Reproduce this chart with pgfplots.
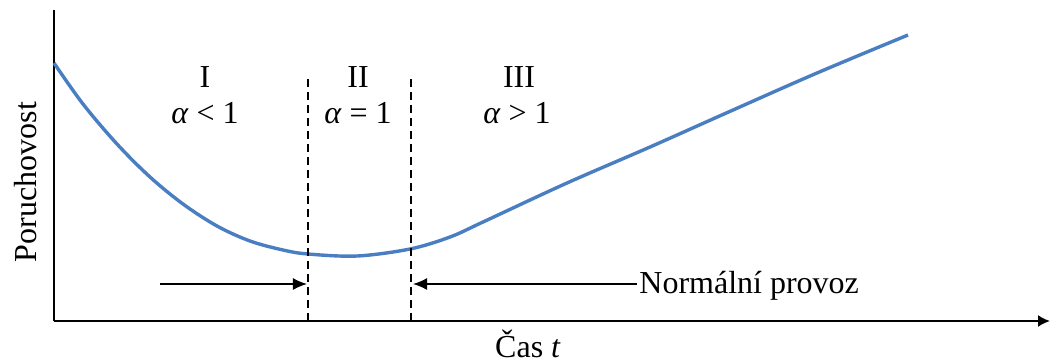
\documentclass[border=0pt]{standalone}
\usepackage{fontspec}
\setmainfont{Liberation Serif}
\usepackage{pgfplots}
\pgfplotsset{compat=1.18}
\usetikzlibrary{arrows.meta}
\definecolor{curveblue}{HTML}{4A7EC2}
\begin{document}
\fontsize{16bp}{19bp}\selectfont
\begin{tikzpicture}
\begin{axis}[
  anchor=origin, at={(0,0)},
  x=0.5bp, y=0.5bp,
  xmin=54, xmax=1050, ymin=41, ymax=352,
  axis x line=bottom, axis y line=left,
  x axis line style={line width=1bp, -{Latex[length=6bp,width=6bp]}},
  y axis line style={line width=1bp, -},
  xtick=\empty, ytick=\empty,
  clip=false,
]
\addplot[curveblue, line width=1.7bp, smooth, tension=0.55] coordinates {
(54,299) (83,258) (117,218) (150,185) (183,158) (217,136) (250,121)
(283,112) (308,108) (357,106) (410,113) (450,125) (483,140) (567,179)
(650,215) (733,252) (817,289) (908,327)
};
\addplot[black, line width=0.75bp, dashed, dash pattern=on 4bp off 2.5bp] coordinates {(308,41) (308,286)};
\addplot[black, line width=0.75bp, dashed, dash pattern=on 4bp off 2.5bp] coordinates {(411,41) (411,286)};
\addplot[black, line width=0.8bp, -{Latex[length=7bp,width=6bp]}] coordinates {(160,78) (307,78)};
\addplot[black, line width=0.8bp, -{Latex[length=7bp,width=6bp]}] coordinates {(637,78) (413,78)};
\node[anchor=base, inner sep=0] at (axis cs:205,275) {I};
\node[anchor=base, inner sep=0] at (axis cs:205,239) {\textit{α} < 1};
\node[anchor=base, inner sep=0] at (axis cs:358,275) {II};
\node[anchor=base, inner sep=0] at (axis cs:358,239) {\textit{α} = 1};
\node[anchor=base, inner sep=0] at (axis cs:519,275) {III};
\node[anchor=base, inner sep=0] at (axis cs:517,239) {\textit{α} > 1};
\node[anchor=base west, inner sep=0] at (axis cs:639,69) {Normální provoz};
\node[anchor=base, inner sep=0] at (axis cs:528,5) {Čas \textit{t}};
\node[anchor=base, inner sep=0, rotate=90] at (axis cs:37,180) {Poruchovost};
\coordinate (bl) at (axis cs:0,0);
\coordinate (tr) at (axis cs:1051,362);
\end{axis}
\pgfresetboundingbox
\path[use as bounding box] (bl) rectangle (tr);
\end{tikzpicture}
\end{document}
